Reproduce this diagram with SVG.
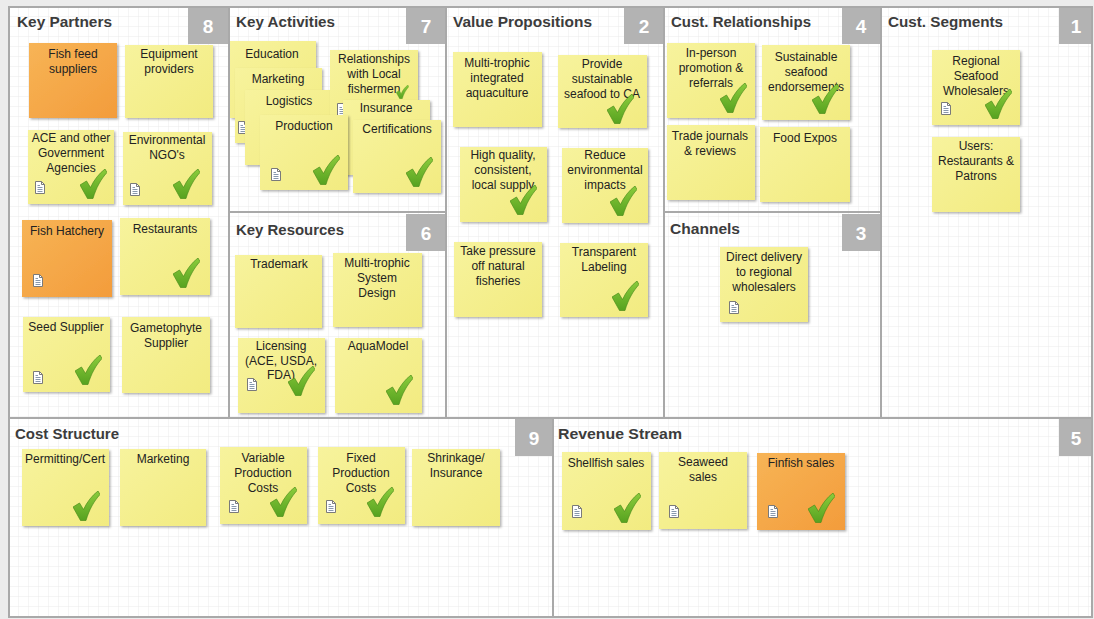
<svg xmlns="http://www.w3.org/2000/svg" width="1094" height="619" viewBox="0 0 1094 619">
<style>
  .ny { fill: url(#gy); filter: url(#sh); }
  .no { fill: url(#go); filter: url(#sh); }
  .nt { font-family: "Liberation Sans", Arial, sans-serif; font-size: 12px; fill: #222; text-anchor: middle; }
  .ttl { font-family: "Liberation Sans", Arial, sans-serif; font-size: 15px; font-weight: bold; fill: #3c3c3c; }
  .tab { fill: #b3b3b3; }
  .num { font-family: "Liberation Sans", Arial, sans-serif; font-size: 19px; font-weight: bold; fill: #ffffff; text-anchor: middle; }
  .frame { fill: none; stroke: #a9a9a9; stroke-width: 2; }
</style>
<defs>
  <pattern id="grid" width="10" height="10" patternUnits="userSpaceOnUse" x="9" y="7">
    <rect width="10" height="10" fill="#ffffff"/>
    <path d="M10,0 V10 M0,10 H10" fill="none" stroke="#ebebeb" stroke-width="1"/>
  </pattern>
  <linearGradient id="gy" x1="0" y1="0" x2="1" y2="1">
    <stop offset="0" stop-color="#f7f39d"/>
    <stop offset="1" stop-color="#f2eb80"/>
  </linearGradient>
  <linearGradient id="go" x1="0" y1="0" x2="1" y2="1">
    <stop offset="0" stop-color="#f7b456"/>
    <stop offset="1" stop-color="#f39c3b"/>
  </linearGradient>
  <linearGradient id="gchk" x1="0" y1="0" x2="0" y2="1">
    <stop offset="0" stop-color="#8bcc3c"/>
    <stop offset="1" stop-color="#57a220"/>
  </linearGradient>
  <filter id="sh" x="-10%" y="-10%" width="125%" height="125%">
    <feDropShadow dx="1.5" dy="1.5" stdDeviation="1.2" flood-color="#000" flood-opacity="0.3"/>
  </filter>
  <symbol id="chk" viewBox="0 0 27 30">
    <path d="M0,16 L6.5,12 L10.5,18.5 C14,11 19,4.5 25,0 L27,3.5 C21,10 16,19 13,29.5 L7.5,29.5 Z" fill="url(#gchk)" stroke="#4c8e1b" stroke-width="0.7"/>
  </symbol>
  <symbol id="doc" viewBox="0 0 10 13">
    <path d="M0.5,0.5 H6.5 L9.5,3.5 V12.5 H0.5 Z" fill="#ffffff" stroke="#7a7a7a" stroke-width="1"/>
    <path d="M6.5,0.5 V3.5 H9.5" fill="none" stroke="#7a7a7a" stroke-width="1"/>
    <path d="M2.5,4.5 H5 M2.5,6.5 H7.5 M2.5,8.5 H7.5 M2.5,10.5 H7.5" stroke="#8898ad" stroke-width="1"/>
  </symbol>
</defs>

<!-- page and grid canvas -->
<rect x="0" y="0" width="1094" height="619" fill="#ececec"/>
<rect x="9" y="7" width="1083" height="610" fill="url(#grid)"/>

<!-- canvas frame and section dividers -->
<g id="frames">
  <rect class="frame" x="9" y="7" width="1083" height="610"/>
  <path class="frame" d="M9,418 H1092 M229,7 V418 M446,7 V418 M664,7 V418 M881,7 V418 M229,212 H446 M664,212 H881 M553,418 V617"/>
</g>

<!-- section headers -->
<g id="sec-partners"><text class="ttl" x="17" y="27" textLength="95" lengthAdjust="spacingAndGlyphs">Key Partners</text><rect class="tab" x="188" y="8" width="40" height="36"/><text class="num" x="208" y="33">8</text></g>
<g id="sec-activities"><text class="ttl" x="236" y="27" textLength="99" lengthAdjust="spacingAndGlyphs">Key Activities</text><rect class="tab" x="406" y="8" width="39" height="36"/><text class="num" x="426" y="33">7</text></g>
<g id="sec-resources"><text class="ttl" x="236" y="235" textLength="108" lengthAdjust="spacingAndGlyphs">Key Resources</text><rect class="tab" x="406" y="214" width="39" height="37"/><text class="num" x="426" y="240">6</text></g>
<g id="sec-value"><text class="ttl" x="453" y="27" textLength="139" lengthAdjust="spacingAndGlyphs">Value Propositions</text><rect class="tab" x="624" y="8" width="39" height="36"/><text class="num" x="644" y="33">2</text></g>
<g id="sec-relationships"><text class="ttl" x="671" y="27" textLength="140" lengthAdjust="spacingAndGlyphs">Cust. Relationships</text><rect class="tab" x="842" y="8" width="38" height="36"/><text class="num" x="861" y="33">4</text></g>
<g id="sec-channels"><text class="ttl" x="670" y="234" textLength="70" lengthAdjust="spacingAndGlyphs">Channels</text><rect class="tab" x="842" y="214" width="38" height="37"/><text class="num" x="861" y="240">3</text></g>
<g id="sec-segments"><text class="ttl" x="888" y="27" textLength="115" lengthAdjust="spacingAndGlyphs">Cust. Segments</text><rect class="tab" x="1059" y="8" width="32" height="36"/><text class="num" x="1076" y="33">1</text></g>
<g id="sec-cost"><text class="ttl" x="15" y="439" textLength="104" lengthAdjust="spacingAndGlyphs">Cost Structure</text><rect class="tab" x="515" y="419" width="37" height="37"/><text class="num" x="534" y="445">9</text></g>
<g id="sec-revenue"><text class="ttl" x="558" y="439" textLength="124" lengthAdjust="spacingAndGlyphs">Revenue Stream</text><rect class="tab" x="1059" y="419" width="32" height="37"/><text class="num" x="1076" y="445">5</text></g>

<!-- Key Partners -->
<g id="n-fishfeed"><rect class="no" x="29" y="43" width="88" height="75"/><text class="nt" x="73" y="58">Fish feed<tspan x="73" dy="15">suppliers</tspan></text></g>
<g id="n-equipment"><rect class="ny" x="125" y="45" width="88" height="73"/><text class="nt" x="169" y="58">Equipment<tspan x="169" dy="15">providers</tspan></text></g>
<g id="n-ace"><rect class="ny" x="28" y="130" width="86" height="74"/><text class="nt" x="71" y="142">ACE and other<tspan x="71" dy="15">Government</tspan><tspan x="71" dy="15">Agencies</tspan></text><use href="#doc" x="35" y="181" width="10" height="13"/><use href="#chk" x="80" y="169" width="27" height="30"/></g>
<g id="n-ngo"><rect class="ny" x="123" y="132" width="89" height="73"/><text class="nt" x="167" y="144">Environmental<tspan x="167" dy="15">NGO's</tspan></text><use href="#doc" x="130" y="183" width="10" height="13"/><use href="#chk" x="173" y="169" width="27" height="30"/></g>
<g id="n-hatchery"><rect class="no" x="22" y="220" width="90" height="77"/><text class="nt" x="67" y="235">Fish Hatchery</text><use href="#doc" x="33" y="274" width="10" height="13"/></g>
<g id="n-restaurants"><rect class="ny" x="120" y="218" width="90" height="77"/><text class="nt" x="165" y="233">Restaurants</text><use href="#chk" x="173" y="258" width="27" height="30"/></g>
<g id="n-seed"><rect class="ny" x="23" y="317" width="87" height="75"/><text class="nt" x="66" y="331">Seed Supplier</text><use href="#doc" x="33" y="371" width="10" height="13"/><use href="#chk" x="75" y="355" width="27" height="30"/></g>
<g id="n-gameto"><rect class="ny" x="122" y="317" width="88" height="76"/><text class="nt" x="166" y="332">Gametophyte<tspan x="166" dy="15">Supplier</tspan></text></g>

<!-- Key Activities (stacked) -->
<g id="n-education"><rect class="ny" x="230" y="41" width="86" height="77"/><text class="nt" x="272" y="58">Education</text></g>
<g id="n-marketing"><rect class="ny" x="235" y="68" width="87" height="75"/><text class="nt" x="278" y="83">Marketing</text><use href="#doc" x="238" y="121" width="10" height="13"/></g>
<g id="n-logistics"><rect class="ny" x="245" y="90" width="91" height="75"/><text class="nt" x="289" y="105">Logistics</text></g>
<g id="n-relationships"><rect class="ny" x="330" y="50" width="88" height="72"/><text class="nt" x="374" y="63">Relationships<tspan x="374" dy="15">with Local</tspan><tspan x="374" dy="15">fishermen</tspan></text><use href="#doc" x="337" y="103" width="10" height="13"/><use href="#chk" x="396" y="85" width="13" height="14"/></g>
<g id="n-insurance"><rect class="ny" x="343" y="100" width="87" height="75"/><text class="nt" x="386" y="112">Insurance</text></g>
<g id="n-production"><rect class="ny" x="260" y="115" width="88" height="75"/><text class="nt" x="304" y="130">Production</text><use href="#doc" x="271" y="168" width="10" height="13"/><use href="#chk" x="313" y="155" width="27" height="30"/></g>
<g id="n-certifications"><rect class="ny" x="353" y="120" width="88" height="73"/><text class="nt" x="397" y="133">Certifications</text><use href="#chk" x="406" y="157" width="27" height="30"/></g>

<!-- Key Resources -->
<g id="n-trademark"><rect class="ny" x="235" y="255" width="87" height="73"/><text class="nt" x="279" y="268">Trademark</text></g>
<g id="n-systemdesign"><rect class="ny" x="333" y="253" width="89" height="74"/><text class="nt" x="377" y="267">Multi-trophic<tspan x="377" dy="15">System</tspan><tspan x="377" dy="15">Design</tspan></text></g>
<g id="n-licensing"><rect class="ny" x="238" y="338" width="87" height="75"/><text class="nt" x="281" y="350">Licensing<tspan x="281" dy="14.5">(ACE, USDA,</tspan><tspan x="281" dy="14.5">FDA)</tspan></text><use href="#doc" x="247" y="378" width="10" height="13"/><use href="#chk" x="288" y="366" width="27" height="30"/></g>
<g id="n-aquamodel"><rect class="ny" x="335" y="338" width="87" height="75"/><text class="nt" x="378" y="350">AquaModel</text><use href="#chk" x="386" y="375" width="27" height="30"/></g>

<!-- Value Propositions -->
<g id="n-imta"><rect class="ny" x="453" y="52" width="89" height="75"/><text class="nt" x="497" y="67">Multi-trophic<tspan x="497" dy="15">integrated</tspan><tspan x="497" dy="15">aquaculture</tspan></text></g>
<g id="n-provide"><rect class="ny" x="558" y="55" width="89" height="73"/><text class="nt" x="602" y="68">Provide<tspan x="602" dy="15">sustainable</tspan><tspan x="602" dy="15">seafood to CA</tspan></text><use href="#chk" x="607" y="94" width="27" height="30"/></g>
<g id="n-quality"><rect class="ny" x="460" y="147" width="87" height="75"/><text class="nt" x="503" y="159">High quality,<tspan x="503" dy="15">consistent,</tspan><tspan x="503" dy="15">local supply</tspan></text><use href="#chk" x="510" y="185" width="27" height="30"/></g>
<g id="n-reduce"><rect class="ny" x="562" y="148" width="86" height="75"/><text class="nt" x="605" y="159">Reduce<tspan x="605" dy="15">environmental</tspan><tspan x="605" dy="15">impacts</tspan></text><use href="#chk" x="610" y="186" width="27" height="30"/></g>
<g id="n-pressure"><rect class="ny" x="454" y="242" width="88" height="75"/><text class="nt" x="498" y="255">Take pressure<tspan x="498" dy="15">off natural</tspan><tspan x="498" dy="15">fisheries</tspan></text></g>
<g id="n-labeling"><rect class="ny" x="560" y="243" width="88" height="74"/><text class="nt" x="604" y="256">Transparent<tspan x="604" dy="15">Labeling</tspan></text><use href="#chk" x="612" y="281" width="27" height="30"/></g>

<!-- Customer Relationships -->
<g id="n-inperson"><rect class="ny" x="667" y="43" width="88" height="75"/><text class="nt" x="711" y="57">In-person<tspan x="711" dy="15">promotion &amp;</tspan><tspan x="711" dy="15">referrals</tspan></text><use href="#chk" x="720" y="83" width="27" height="30"/></g>
<g id="n-endorse"><rect class="ny" x="762" y="45" width="88" height="75"/><text class="nt" x="806" y="61">Sustainable<tspan x="806" dy="15">seafood</tspan><tspan x="806" dy="15">endorsements</tspan></text><use href="#chk" x="812" y="84" width="27" height="30"/></g>
<g id="n-journals"><rect class="ny" x="667" y="125" width="88" height="75"/><text class="nt" x="710" y="140">Trade journals<tspan x="710" dy="15">&amp; reviews</tspan></text></g>
<g id="n-expos"><rect class="ny" x="760" y="127" width="90" height="75"/><text class="nt" x="805" y="142">Food Expos</text></g>

<!-- Channels -->
<g id="n-delivery"><rect class="ny" x="720" y="247" width="88" height="75"/><text class="nt" x="764" y="261">Direct delivery<tspan x="764" dy="15">to regional</tspan><tspan x="764" dy="15">wholesalers</tspan></text><use href="#doc" x="729" y="301" width="10" height="13"/></g>

<!-- Customer Segments -->
<g id="n-wholesalers"><rect class="ny" x="932" y="50" width="88" height="75"/><text class="nt" x="976" y="65">Regional<tspan x="976" dy="15">Seafood</tspan><tspan x="976" dy="15">Wholesalers</tspan></text><use href="#doc" x="941" y="102" width="10" height="13"/><use href="#chk" x="985" y="89" width="27" height="30"/></g>
<g id="n-users"><rect class="ny" x="932" y="137" width="88" height="75"/><text class="nt" x="976" y="150">Users:<tspan x="976" dy="15">Restaurants &amp;</tspan><tspan x="976" dy="15">Patrons</tspan></text></g>

<!-- Cost Structure -->
<g id="n-permit"><rect class="ny" x="22" y="449" width="87" height="77"/><text class="nt" x="65" y="463">Permitting/Cert</text><use href="#chk" x="73" y="491" width="27" height="30"/></g>
<g id="n-costmarketing"><rect class="ny" x="120" y="449" width="86" height="77"/><text class="nt" x="163" y="463">Marketing</text></g>
<g id="n-variable"><rect class="ny" x="220" y="447" width="87" height="77"/><text class="nt" x="263" y="462">Variable<tspan x="263" dy="15">Production</tspan><tspan x="263" dy="15">Costs</tspan></text><use href="#doc" x="229" y="500" width="10" height="13"/><use href="#chk" x="270" y="487" width="27" height="30"/></g>
<g id="n-fixed"><rect class="ny" x="318" y="447" width="87" height="77"/><text class="nt" x="361" y="462">Fixed<tspan x="361" dy="15">Production</tspan><tspan x="361" dy="15">Costs</tspan></text><use href="#doc" x="326" y="500" width="10" height="13"/><use href="#chk" x="367" y="487" width="27" height="30"/></g>
<g id="n-shrinkage"><rect class="ny" x="412" y="449" width="88" height="77"/><text class="nt" x="456" y="462">Shrinkage/<tspan x="456" dy="15">Insurance</tspan></text></g>

<!-- Revenue Stream -->
<g id="n-shellfish"><rect class="ny" x="562" y="452" width="89" height="78"/><text class="nt" x="606" y="467">Shellfish sales</text><use href="#doc" x="572" y="505" width="10" height="13"/><use href="#chk" x="614" y="493" width="27" height="30"/></g>
<g id="n-seaweed"><rect class="ny" x="659" y="452" width="88" height="77"/><text class="nt" x="703" y="466">Seaweed<tspan x="703" dy="15">sales</tspan></text><use href="#doc" x="669" y="505" width="10" height="13"/></g>
<g id="n-finfish"><rect class="no" x="757" y="453" width="88" height="77"/><text class="nt" x="801" y="467">Finfish sales</text><use href="#doc" x="768" y="505" width="10" height="13"/><use href="#chk" x="808" y="493" width="27" height="30"/></g>

<!-- no connectors in this canvas -->
<g id="connectors"/>
</svg>
